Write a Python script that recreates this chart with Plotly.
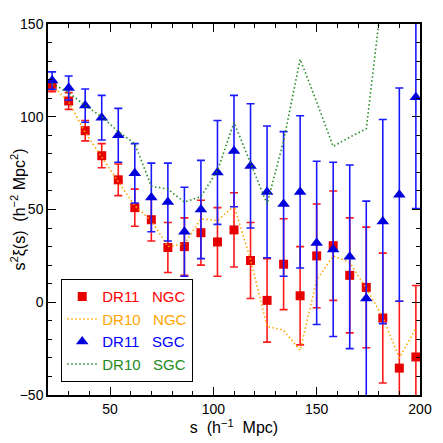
import plotly.graph_objects as go

# separation bins (h^-1 Mpc)
s_bins = [22, 30, 38, 46, 54, 62, 70, 78, 86, 94, 102, 110, 118, 126, 134, 142, 150, 158, 166, 174, 182, 190, 198]

# DR11 NGC
dr11_ngc = [116.5, 108.5, 92.5, 79, 66, 51, 44.5, 29.5, 30, 37.5, 32.5, 39, 22.5, 1, 20.5, 3.5, 25, 30.5, 14.5, 8, -8.5, -35.5, -29.5]
dr11_ngc_err = [3, 4.5, 5.5, 6.5, 8.5, 10, 11.5, 13.5, 15.5, 17.5, 18.5, 20, 20.5, 22.5, 24.5, 26.5, 28, 29.5, 31, 32.5, 35, 36, 38.5]

# DR10 NGC
dr10_ngc = [117, 108, 91.5, 78, 65, 52, 44, 30, 31.5, 45, 44, 52, 23, -13, -15, -26, 12, 25, 21.5, 7.5, -8, -30, -14]

# DR11 SGC
dr11_sgc = [119.5, 115.5, 106, 99.5, 90, 69.5, 56.5, 54, 38, 50, 70, 81.5, 73.5, 59.5, 53, 59.5, 32, 28.5, 24.5, 2, 43.5, 58, 110.5]
dr11_sgc_err = [4.7, 6.5, 9, 12, 14.5, 16, 18.5, 21, 24, 26.5, 28, 30, 33.5, 35.5, 39, 41, 44, 47, 49.5, 52.5, 55, 57.5, 60]

# DR10 SGC
dr10_sgc = [118, 113, 106, 100, 92, 85.5, 62.5, 61, 54, 57, 71, 97, 75, 53, 87, 131, 108, 84, 89, 93.5, 169, 185, 195]

GAP = "\u00a0\u00a0\u00a0"
FONT = "Liberation Sans, Arial"


def label(text, color):
    return f"<span style='color:{color}'>{text}</span>"


fig = go.Figure()

fig.add_trace(go.Scatter(
    x=s_bins, y=dr11_ngc, mode="markers",
    name=label("DR11" + GAP + "NGC", "#ff0000"),
    marker=dict(symbol="square", size=9, color="#e60000"),
    error_y=dict(type="data", array=dr11_ngc_err, color="#ff1a1a", thickness=1.6, width=4),
))
fig.add_trace(go.Scatter(
    x=s_bins, y=dr10_ngc, mode="lines",
    name=label("DR10" + GAP + "NGC", "#ffa500"),
    line=dict(color="#ffa500", width=1.6, dash="1.5px,2.5px"),
))
fig.add_trace(go.Scatter(
    x=s_bins, y=dr11_sgc, mode="markers",
    name=label("DR11" + GAP + "SGC", "#0000ff"),
    marker=dict(symbol="triangle-up", size=11, color="#0000dd"),
    error_y=dict(type="data", array=dr11_sgc_err, color="#1a1aff", thickness=1.6, width=4),
))
fig.add_trace(go.Scatter(
    x=s_bins, y=dr10_sgc, mode="lines",
    name=label("DR10" + GAP + "SGC", "#228b22"),
    line=dict(color="#228b22", width=1.6, dash="1.5px,2.5px"),
))

axis_common = dict(
    showgrid=False, zeroline=False, showline=True, linecolor="black", linewidth=1.5,
    ticks="inside", ticklen=8, tickwidth=1.2, tickcolor="black", mirror="ticks",
    tickfont=dict(family=FONT, size=14, color="black"), automargin=False,
)

fig.update_xaxes(
    range=[20, 200], tick0=0, dtick=50,
    minor=dict(dtick=10, ticks="inside", ticklen=4, tickcolor="black"),
    title=dict(text="s\u00a0\u00a0(h<sup>\u22121</sup>\u00a0\u00a0Mpc)", font=dict(family=FONT, size=16, color="black"), standoff=6),
    **axis_common,
)
fig.update_yaxes(
    range=[-50, 150], tick0=0, dtick=50,
    minor=dict(dtick=10, ticks="inside", ticklen=4, tickcolor="black"),
    title=dict(text="s<sup>2</sup>\u03be(s)\u00a0\u00a0(h<sup>\u22122</sup>\u00a0Mpc<sup>2</sup>)", font=dict(family=FONT, size=16, color="black"), standoff=4),
    **axis_common,
)

# the page body has an 8px margin, so the figure is 8px smaller than the window
fig.update_layout(
    width=435, height=435,
    margin=dict(l=40, r=23, t=16, b=48),
    plot_bgcolor="white", paper_bgcolor="white",
    legend=dict(
        x=0.035, y=0.035, xanchor="left", yanchor="bottom",
        bgcolor="white", bordercolor="black", borderwidth=1.2,
        font=dict(family=FONT, size=15),
        itemwidth=30, tracegroupgap=0,
    ),
)

fig.write_html("out.html")
